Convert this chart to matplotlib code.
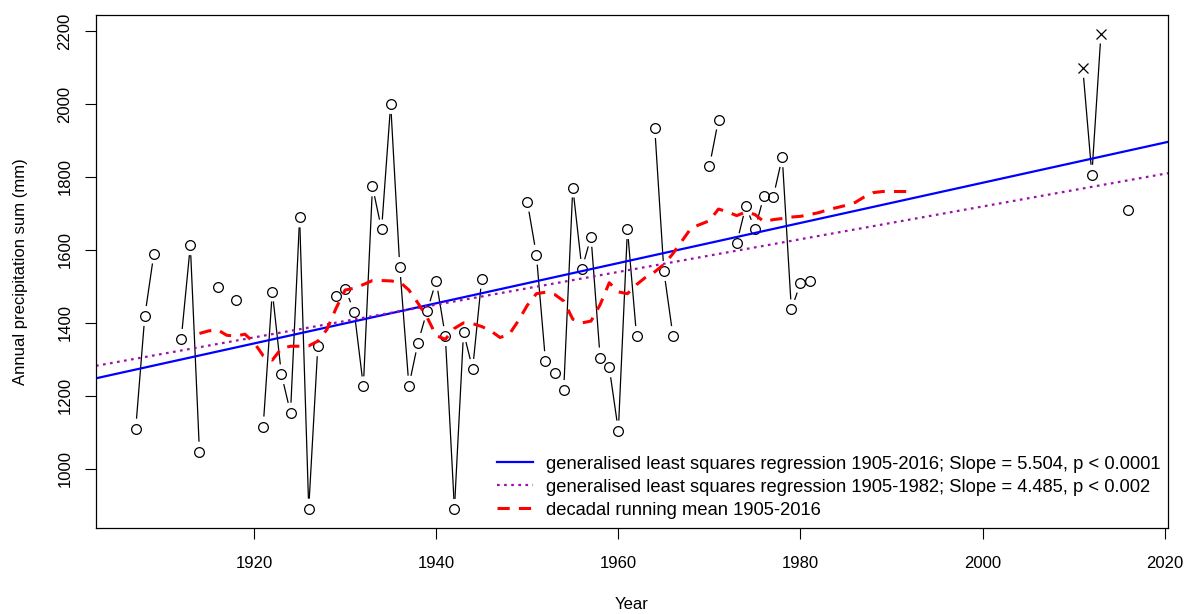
import numpy as np
import matplotlib
matplotlib.use("Agg")
import matplotlib.pyplot as plt
from matplotlib.collections import LineCollection

plt.rcParams['font.family'] = ['Liberation Sans', 'DejaVu Sans']
plt.rcParams['font.size'] = 12

# annual precipitation sums (mm); missing years are simply absent
years = [1907, 1908, 1909, 1912, 1913, 1914, 1916, 1918, 1921, 1922,
         1923, 1924, 1925, 1926, 1927, 1929, 1930, 1931, 1932, 1933,
         1934, 1935, 1936, 1937, 1938, 1939, 1940, 1941, 1942, 1943,
         1944, 1945, 1950, 1951, 1952, 1953, 1954, 1955, 1956, 1957,
         1958, 1959, 1960, 1961, 1962, 1964, 1965, 1966, 1970, 1971,
         1973, 1974, 1975, 1976, 1977, 1978, 1979, 1980, 1981, 2011,
         2012, 2013, 2016]
precip = [1110, 1419, 1590, 1356, 1613, 1047, 1497, 1462, 1116, 1486,
          1259, 1154, 1689, 891, 1336, 1475, 1494, 1431, 1226, 1774,
          1656, 2000, 1553, 1228, 1346, 1433, 1515, 1364, 890, 1374,
          1274, 1521, 1732, 1587, 1295, 1263, 1216, 1771, 1548, 1636,
          1305, 1278, 1105, 1657, 1364, 1934, 1542, 1364, 1829, 1957,
          1619, 1720, 1657, 1749, 1744, 1854, 1437, 1509, 1514, 2099,
          1806, 2193, 1709]
# years with estimated sums (drawn as crosses)
est_years = [2011, 2013]

# decadal running mean
rm_years = list(range(1914, 1993))
rm_values = [1371, 1378, 1381, 1366, 1364, 1369, 1346, 1310, 1298, 1330,
             1336, 1336, 1337, 1350, 1382, 1440, 1490, 1495, 1505, 1516,
             1516, 1515, 1512, 1490, 1454, 1415, 1365, 1355, 1385, 1400,
             1398, 1390, 1378, 1360, 1368, 1405, 1448, 1480, 1484, 1478,
             1460, 1410, 1400, 1405, 1450, 1510, 1485, 1480, 1505, 1525,
             1540, 1560, 1590, 1625, 1660, 1670, 1680, 1712, 1704, 1694,
             1704, 1697, 1677, 1683, 1686, 1690, 1692, 1697, 1702, 1710,
             1716, 1722, 1730, 1745, 1757, 1760, 1760, 1760, 1760]

# GLS regression lines (intercept, slope)
gls_all = (-9224.0, 5.504)
gls_early = (-7251.0, 4.485)

fig = plt.figure(figsize=(11.88, 6.14), dpi=100)
ax = fig.add_axes([96 / 1188, 1 - 528 / 614, (1168 - 96) / 1188, (528 - 14.5) / 614])

yrs = np.array(years, dtype=float)
pr = np.array(precip, dtype=float)
span_x = yrs.max() - yrs.min()
span_y = pr.max() - pr.min()
ax.set_xlim(yrs.min() - 0.04 * span_x, yrs.max() + 0.04 * span_x)
ax.set_ylim(pr.min() - 0.04 * span_y, pr.max() + 0.04 * span_y)

# connecting lines with gaps around the points (like R type="b")
gap = 10
pts = ax.transData.transform(np.column_stack([yrs, pr]))
inv = ax.transData.inverted()
segs = []
for i in range(len(yrs) - 1):
    if yrs[i + 1] - yrs[i] != 1:
        continue
    d = pts[i + 1] - pts[i]
    L = np.hypot(*d)
    if L <= 2 * gap:
        continue
    u = d / L
    segs.append(inv.transform([pts[i] + u * gap, pts[i + 1] - u * gap]))
ax.add_collection(LineCollection(segs, colors='black', linewidths=0.9))

is_est = np.isin(yrs, est_years)
ax.plot(yrs[~is_est], pr[~is_est], 'o', ms=7, mfc='none', mec='black', mew=0.9)
ax.plot(yrs[is_est], pr[is_est], 'x', ms=7, color='black', mew=0.9)

ax.axline((0, gls_all[0]), slope=gls_all[1], color='#0000ff', lw=1.6,
          label='generalised least squares regression 1905-2016; Slope = 5.504, p < 0.0001')
ax.axline((0, gls_early[0]), slope=gls_early[1], color='#9a10a8', lw=1.6,
          linestyle=(0, (1.2, 2.0)),
          label='generalised least squares regression 1905-1982; Slope = 4.485, p < 0.002')
ax.plot(rm_years, rm_values, color='#ff0000', lw=2.2, linestyle=(0, (4, 3)),
        label='decadal running mean 1905-2016')

ax.set_xticks([1920, 1940, 1960, 1980, 2000, 2020])
ax.set_yticks([1000, 1200, 1400, 1600, 1800, 2000, 2200])
ax.tick_params(direction='out', length=8, width=0.8, pad=9)
ax.tick_params(axis='x', pad=12)
for lab in ax.get_yticklabels():
    lab.set_rotation(90)
    lab.set_va('center')
for s in ax.spines.values():
    s.set_linewidth(0.9)

ax.set_xlabel('Year', labelpad=19)
ax.set_ylabel('Annual precipitation sum (mm)', labelpad=21)

ax.legend(loc='lower right', bbox_to_anchor=(1.0, 0.004), frameon=False,
          handlelength=2.0, handletextpad=0.7, labelspacing=0.32,
          borderaxespad=0.0, fontsize=13.2)

fig.savefig('out.png', dpi=100)
